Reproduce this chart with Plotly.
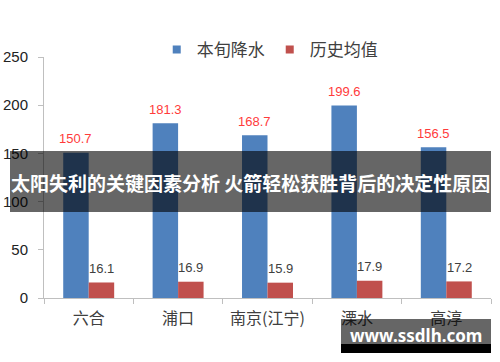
import plotly.graph_objects as go

categories = ["六合", "浦口", "南京(江宁)", "溧水", "高淳"]
rain_now = [150.7, 181.3, 168.7, 199.6, 156.5]
rain_hist = [16.1, 16.9, 15.9, 17.9, 17.2]
series_names = ["本旬降水", "历史均值"]
y_ticks = [0, 50, 100, 150, 200, 250]

BLUE = "#4f81bd"
RED = "#c0504d"
CJK = "Noto Sans CJK SC"
NUM = "Liberation Sans"

fig = go.Figure()
fig.add_trace(go.Bar(
    x=categories, y=rain_now, name=series_names[0], marker_color=BLUE,
    marker_line_width=0, showlegend=False,
))
fig.add_trace(go.Bar(
    x=categories, y=rain_hist, name=series_names[1], marker_color=RED,
    marker_line_width=0, showlegend=False,
))
# value labels above bars
for vals, shift, col in [(rain_now, -12.75, "#ff3b3b"), (rain_hist, 12.75, "#404040")]:
    for c, v in zip(categories, vals):
        fig.add_annotation(x=c, y=v, text=f"{v:.1f}", showarrow=False,
                           xshift=shift, yshift=14, yanchor="middle",
                           font=dict(family=NUM, size=13, color=col))
# legend entries with small square keys
for name, col in zip(series_names, [BLUE, RED]):
    fig.add_trace(go.Scatter(
        x=[None], y=[None], mode="markers", name=name,
        marker=dict(symbol="square", size=8, color=col),
    ))

fig.update_layout(
    width=500, height=362,
    margin=dict(l=44, r=9, t=57, b=64, autoexpand=False),
    paper_bgcolor="white", plot_bgcolor="white",
    barmode="group", bargap=0.43, bargroupgap=0,
    legend=dict(orientation="h", x=0.505, xanchor="center", y=(298-50)/241, yanchor="middle",
                font=dict(family=CJK, size=17, color="#404040"),
                itemwidth=30, bgcolor="rgba(0,0,0,0)"),
    font=dict(family=CJK, color="#404040"),
)
fig.update_xaxes(
    showline=True, linecolor="#bfbfbf", linewidth=1,
    ticks="outside", tickson="boundaries", ticklen=5, tickcolor="#bfbfbf",
    tickfont=dict(family=CJK, size=16, color="#404040"), ticklabelstandoff=6,
    showgrid=False, fixedrange=True, automargin=False,
)
fig.update_yaxes(
    range=[0, 250], tickvals=y_ticks, showline=True, linecolor="#bfbfbf", linewidth=1,
    ticks="outside", ticklen=5, tickcolor="#bfbfbf",
    tickfont=dict(family=NUM, size=15, color="#222222"), ticklabelstandoff=7,
    showgrid=False, zeroline=False, fixedrange=True, automargin=False,
)

# dark banner overlay with title text
fig.add_shape(type="rect", xref="paper", yref="paper",
              x0=-34/447, x1=1.0, y0=86/241, y1=147/241,
              fillcolor="rgba(0,0,0,0.6)", line_width=0, layer="above")
fig.add_annotation(xref="paper", yref="paper", x=206.5/447, y=116/241,
                   text="<b>太阳失利的关键因素分析 火箭轻松获胜背后的决定性原因</b>",
                   showarrow=False, font=dict(family=CJK, size=19, color="white"),
                   xanchor="center", yanchor="middle")
# watermark
fig.add_shape(type="rect", xref="paper", yref="paper",
              x0=297/447, x1=1.0, y0=-46/241, y1=-21/241,
              fillcolor="rgba(0,0,0,0.6)", line_width=0, layer="above")
fig.add_shape(type="rect", xref="paper", yref="paper",
              x0=297/447, x1=1.0, y0=-55/241, y1=-46/241,
              fillcolor="black", line_width=0, layer="above")
fig.add_annotation(xref="paper", yref="paper", x=372/447, y=-37/241,
                   text="<b>www.ssdlh.com</b>", showarrow=False,
                   font=dict(family="Noto Sans", size=17, color="white"),
                   xanchor="center", yanchor="middle")

fig.write_html("out.html")
